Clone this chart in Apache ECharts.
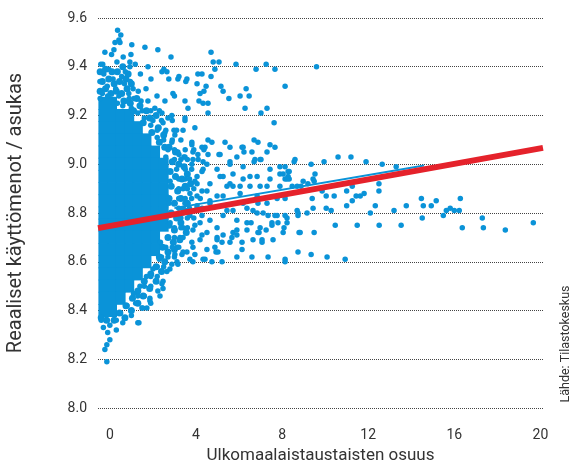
<!DOCTYPE html>
<html>
<head>
<meta charset="utf-8">
<script src="https://cdn.jsdelivr.net/npm/echarts@6/dist/echarts.min.js"></script>
<style>
    html, body { margin: 0; padding: 0; background: #fff; }
    #chart { width: 575px; height: 469px; }
</style>
</head>
<body>
<div id="chart"></div>
<script>
// x-akselin ja y-akselin tikit
var xTicks = [0, 4, 8, 12, 16, 20];
var yTicks = [8.0, 8.2, 8.4, 8.6, 8.8, 9.0, 9.2, 9.4, 9.6];

// tiheä ydinalue (kunnat joissa vähän ulkomaalaistaustaisia)
var corePoints = [
    [-0.3, 9.25], [0.1, 9.25],
    [-0.3, 9.20], [0.1, 9.20], [0.5, 9.20], [0.9, 9.20],
    [-0.3, 9.15], [0.1, 9.15], [0.5, 9.15], [0.9, 9.15], [1.3, 9.15],
    [-0.3, 9.10], [0.1, 9.10], [0.5, 9.10], [0.9, 9.10], [1.3, 9.10], [1.7, 9.10],
    [-0.3, 9.05], [0.1, 9.05], [0.5, 9.05], [0.9, 9.05], [1.3, 9.05], [1.7, 9.05], [2.1, 9.05],
    [-0.3, 9.00], [0.1, 9.00], [0.5, 9.00], [0.9, 9.00], [1.3, 9.00], [1.7, 9.00], [2.1, 9.00], [2.5, 9.00],
    [-0.3, 8.95], [0.1, 8.95], [0.5, 8.95], [0.9, 8.95], [1.3, 8.95], [1.7, 8.95], [2.1, 8.95], [2.5, 8.95],
    [-0.3, 8.90], [0.1, 8.90], [0.5, 8.90], [0.9, 8.90], [1.3, 8.90], [1.7, 8.90], [2.1, 8.90], [2.5, 8.90],
    [-0.3, 8.85], [0.1, 8.85], [0.5, 8.85], [0.9, 8.85], [1.3, 8.85], [1.7, 8.85], [2.1, 8.85], [2.5, 8.85],
    [-0.3, 8.80], [0.1, 8.80], [0.5, 8.80], [0.9, 8.80], [1.3, 8.80], [1.7, 8.80], [2.1, 8.80], [2.5, 8.80],
    [-0.3, 8.75], [0.1, 8.75], [0.5, 8.75], [0.9, 8.75], [1.3, 8.75], [1.7, 8.75], [2.1, 8.75], [2.5, 8.75],
    [-0.3, 8.70], [0.1, 8.70], [0.5, 8.70], [0.9, 8.70], [1.3, 8.70], [1.7, 8.70], [2.1, 8.70],
    [-0.3, 8.65], [0.1, 8.65], [0.5, 8.65], [0.9, 8.65], [1.3, 8.65], [1.7, 8.65], [2.1, 8.65],
    [-0.3, 8.60], [0.1, 8.60], [0.5, 8.60], [0.9, 8.60], [1.3, 8.60], [1.7, 8.60],
    [-0.3, 8.55], [0.1, 8.55], [0.5, 8.55], [0.9, 8.55], [1.3, 8.55],
    [-0.3, 8.50], [0.1, 8.50], [0.5, 8.50], [0.9, 8.50],
    [-0.3, 8.45], [0.1, 8.45], [0.5, 8.45],
    [-0.3, 8.40], [0.1, 8.40]
];

// ytimen reunan tiheät kunnat
var edgePoints = [
    [2.75, 9.07], [3.05, 9.05], [2.9, 9.01], [3.2, 9.0], [3.45, 8.99], [2.8, 8.97], [3.05, 8.95], [3.35, 8.94],
    [3.6, 8.96], [2.85, 8.91], [3.15, 8.89], [3.5, 8.91], [3.75, 8.92], [2.75, 8.86], [3.0, 8.84], [3.3, 8.86],
    [3.6, 8.84], [2.85, 8.80], [3.1, 8.78], [3.45, 8.81], [2.75, 8.75], [3.0, 8.73], [3.3, 8.76], [3.55, 8.72],
    [2.7, 8.70], [2.95, 8.68], [3.25, 8.69], [2.45, 8.66], [2.7, 8.64], [3.0, 8.65], [2.3, 8.62], [2.55, 8.60],
    [2.15, 8.58], [2.4, 8.56], [1.9, 8.55], [2.15, 8.52], [1.6, 8.52], [1.85, 8.49], [1.3, 8.48], [1.55, 8.46],
    [1.05, 8.45], [1.3, 8.43], [0.75, 8.42], [1.0, 8.40], [0.45, 8.39], [0.7, 8.37], [0.2, 8.36], [-0.4, 8.37],
    [-0.15, 8.36],
    [2.3, 9.09], [2.55, 9.07], [1.95, 9.13], [2.25, 9.15], [2.5, 9.12], [1.55, 9.17], [1.85, 9.19], [2.15, 9.2],
    [1.1, 9.22], [1.4, 9.24], [1.7, 9.22], [0.65, 9.26], [0.95, 9.25], [1.25, 9.27],
    [-0.45, 9.30], [-0.2, 9.31], [0.05, 9.29], [0.3, 9.30], [0.55, 9.29], [0.8, 9.31], [-0.35, 9.34], [-0.05, 9.35],
    [0.2, 9.33], [0.45, 9.34], [0.75, 9.35], [1.0, 9.33], [-0.45, 9.38], [-0.2, 9.39], [0.1, 9.38], [0.35, 9.38],
    [0.6, 9.40], [0.85, 9.37]
];

// yksittäiset kunnat
var scatterPoints = [
    // yläreuna
    [0.36, 9.55], [0.51, 9.53], [0.42, 9.51], [0.24, 9.50], [0.47, 9.50], [1.02, 9.49], [-0.23, 9.46], [0.19, 9.47],
    [1.63, 9.48], [2.23, 9.47], [0.98, 9.45], [2.84, 9.44], [0.93, 9.42], [4.7, 9.46], [4.8, 9.42], [5.07, 9.42],
    [4.88, 9.39], [-0.33, 9.41], [0.93, 9.40], [1.77, 9.40], [2.51, 9.39], [5.86, 9.41], [7.26, 9.41], [6.79, 9.39],
    [7.67, 9.39], [8.14, 9.32], [9.6, 9.40], [2.42, 9.38], [4.09, 9.37], [4.7, 9.36], [3.21, 9.36], [2.74, 9.35],
    [3.53, 9.34], [1.91, 9.35], [4.05, 9.33], [4.47, 9.32], [5.16, 9.32], [5.26, 9.30], [6.33, 9.31], [6.47, 9.28],
    [6.05, 9.28], [5.53, 9.27], [4.19, 9.29], [4.37, 9.30], [2.93, 9.29], [3.49, 9.26], [3.63, 9.23], [4.14, 9.26],
    [4.33, 9.25], [4.56, 9.25], [6.28, 9.23], [7.3, 9.23], [7.02, 9.21], [4.56, 9.21], [7.63, 9.17], [3.95, 9.15],
    [3.49, 9.19], [2.7, 9.19], [2.98, 9.14], [3.81, 9.08], [4.56, 9.10], [4.74, 9.09], [5.35, 9.09], [5.58, 9.07],
    [6.14, 9.07], [6.7, 9.10], [6.88, 9.09], [7.44, 9.08], [7.67, 9.07], [4.37, 9.06], [6.23, 9.05], [6.6, 9.05],
    [3.86, 9.05], [4.56, 9.04], [5.07, 9.04], [5.9, 9.03], [3.21, 9.04], [3.44, 9.03], [3.86, 9.02], [4.33, 9.01],
    [5.58, 9.01], [6.7, 9.01], [7.02, 9.02], [7.44, 8.98], [7.9, 8.96], [8.28, 8.97],
    // oikea puoli
    [8.14, 8.99], [8.05, 8.96], [8.33, 8.97], [8.14, 8.94], [8.33, 8.94], [8.56, 9.01], [9.35, 9.0], [9.95, 9.01],
    [10.6, 9.03], [11.2, 9.03], [11.9, 9.01], [12.65, 9.0], [13.3, 8.99], [8.98, 8.93], [9.2, 8.92], [9.53, 8.96],
    [9.44, 8.94], [9.49, 8.93], [8.47, 8.91], [8.7, 8.91], [8.88, 8.91], [9.86, 8.89], [9.4, 8.86], [10.05, 8.87],
    [10.42, 8.87], [11.0, 8.89], [11.26, 8.91], [11.26, 8.85], [11.44, 8.87], [11.63, 8.87], [11.81, 8.88], [12.5, 8.92],
    [12.5, 8.89], [11.0, 8.83], [12.33, 8.83], [12.1, 8.80], [8.7, 8.81], [8.74, 8.79], [9.16, 8.80], [9.44, 8.82],
    [10.05, 8.82], [10.28, 8.81], [13.2, 8.81], [13.77, 8.83], [14.47, 8.86], [14.56, 8.83], [14.93, 8.83], [15.16, 8.85],
    [16.28, 8.86], [15.63, 8.81], [15.81, 8.82], [16.0, 8.81], [16.23, 8.81], [14.51, 8.78], [15.49, 8.79], [17.3, 8.78],
    [8.23, 8.78], [8.09, 8.74], [8.05, 8.72], [8.79, 8.72], [9.49, 8.72], [10.47, 8.75], [11.49, 8.75], [12.51, 8.75],
    [13.53, 8.75], [16.37, 8.74], [17.35, 8.74], [18.37, 8.73], [19.67, 8.76], [8.74, 8.64], [9.35, 8.63], [10.09, 8.62],
    [10.93, 8.61], [8.14, 8.60],
    // keskialue
    [6.84, 8.80], [7.9, 8.91], [8.28, 8.95], [7.35, 8.79], [7.77, 8.79], [7.53, 8.75], [7.81, 8.76], [7.26, 8.73],
    [7.58, 8.69], [7.07, 8.69], [6.93, 8.72], [6.56, 8.76], [6.37, 8.73], [6.65, 8.69], [6.14, 8.68], [5.9, 8.71],
    [5.58, 8.68], [5.72, 8.72], [5.26, 8.71], [5.21, 8.68], [4.98, 8.70], [4.93, 8.64], [6.6, 8.62], [7.35, 8.62],
    [5.9, 8.62], [5.21, 8.60], [4.74, 8.6], [8.14, 8.61], [6.14, 8.65], [8.84, 8.72], [8.74, 8.80], [8.23, 8.76],
    [4.33, 8.61], [3.86, 8.60], [6.19, 9.07], [4.42, 9.07], [5.12, 9.04], [7.3, 9.05], [8.6, 9.02], [6.98, 9.02],
    [5.58, 9.0], [4.51, 9.0], [6.19, 8.99], [6.74, 9.02], [7.9, 8.99], [6.84, 8.95], [6.19, 8.94], [5.72, 8.96],
    [5.12, 8.95], [4.65, 8.92], [5.44, 8.91], [6.51, 8.91], [7.3, 8.91], [4.05, 8.95], [4.33, 8.98], [4.98, 8.98],
    [5.72, 8.91], [6.05, 8.88], [6.84, 8.87], [7.3, 8.84], [5.26, 8.87], [4.65, 8.85], [4.05, 8.87], [4.28, 8.82],
    [5.44, 8.81], [6.37, 8.82], [6.88, 8.84], [7.77, 8.86], [8.14, 8.86],
    [4.42, 8.61], [5.02, 8.64], [4.88, 8.66], [4.51, 8.65], [7.07, 8.68], [5.67, 8.70], [5.9, 8.73], [6.88, 8.72],
    [4.98, 8.69], [4.19, 8.69], [3.86, 8.66], [3.58, 8.64], [3.72, 8.61], [3.35, 8.63], [5.26, 8.95], [5.58, 8.92],
    [6.05, 8.91], [6.51, 8.95], [6.98, 8.91], [7.44, 8.94], [8.23, 8.94], [6.19, 8.84], [6.65, 8.81], [7.12, 8.80],
    [7.67, 8.79], [8.14, 8.79], [5.72, 8.81], [5.26, 8.79], [5.9, 8.77], [6.37, 8.76], [6.98, 8.74], [7.53, 8.76],
    [4.65, 8.77], [4.98, 8.74], [4.51, 8.72], [4.19, 8.76], [3.86, 8.73], [3.72, 8.79], [4.05, 8.82], [4.65, 8.84],
    [4.98, 8.87], [4.51, 8.89], [4.05, 8.92], [3.72, 8.88], [3.49, 8.84], [3.4, 8.80], [3.4, 8.74], [3.26, 8.70],
    [3.12, 8.66],
    // ytimen reuna
    [2.65, 9.38], [3.16, 9.35], [3.58, 9.35], [4.28, 9.37], [3.0, 9.28], [2.19, 9.28], [1.77, 9.26], [2.56, 9.26],
    [2.09, 9.23], [3.49, 9.18], [3.02, 9.12], [3.81, 9.09], [2.88, 9.09], [2.56, 9.13], [2.47, 9.17], [2.88, 9.2],
    [2.42, 9.21], [4.28, 9.07], [4.09, 9.04], [3.49, 9.03], [3.81, 9.0], [3.16, 9.05], [4.28, 8.97], [3.95, 8.93],
    [4.28, 8.89], [4.05, 8.83], [4.28, 8.79], [3.95, 8.75], [4.28, 8.71], [3.81, 8.68], [3.4, 8.64], [3.95, 8.63],
    [3.02, 8.63], [3.12, 8.60], [2.65, 8.56], [2.47, 8.52], [2.23, 8.48], [1.86, 8.44], [1.49, 8.41], [1.72, 8.41],
    [1.3, 8.35], [1.35, 8.35], [1.53, 8.41], [1.9, 8.43], [1.86, 8.45], [2.33, 8.46], [2.47, 8.49], [2.42, 8.51],
    [2.79, 8.57], [2.88, 8.59], [3.16, 8.59], [3.0, 8.62],
    [1.5, 9.22], [1.9, 9.22], [2.3, 9.22], [2.0, 9.18], [2.4, 9.18], [2.9, 9.18], [2.2, 9.14], [2.6, 9.14],
    [3.1, 9.14], [3.4, 9.14], [2.5, 9.10], [2.9, 9.10], [3.3, 9.10], [2.7, 9.06], [3.0, 9.06], [3.5, 9.06],
    [3.9, 9.06], [3.0, 9.02], [3.3, 9.02], [3.6, 9.02], [4.1, 9.02], [3.1, 8.98], [3.5, 8.98], [3.8, 8.98],
    [3.2, 8.94], [3.5, 8.94], [3.7, 8.94], [3.2, 8.90], [3.4, 8.90], [3.6, 8.90], [3.9, 8.90], [3.2, 8.86],
    [3.5, 8.86], [3.8, 8.86], [4.2, 8.86], [3.2, 8.82], [3.4, 8.82], [3.7, 8.82], [3.1, 8.78], [3.3, 8.78],
    [3.6, 8.78], [3.9, 8.78], [3.0, 8.74], [3.3, 8.74], [3.6, 8.74], [2.7, 8.70], [3.0, 8.70], [3.4, 8.70],
    [2.6, 8.66], [2.9, 8.66], [3.2, 8.66], [2.4, 8.62], [2.7, 8.62], [2.2, 8.58], [2.5, 8.58], [1.9, 8.54],
    [2.2, 8.54], [1.6, 8.50], [1.9, 8.50], [1.3, 8.46], [1.6, 8.46],
    [1.1, 8.47], [1.4, 8.50], [1.7, 8.54], [2.0, 8.57], [2.3, 8.61], [0.8, 8.42], [1.0, 8.38], [0.5, 8.39],
    [1.2, 8.43], [0.3, 8.36], [2.8, 8.93], [2.75, 8.84], [2.8, 8.76], [2.6, 9.03], [2.35, 8.68],
    // ytimen yläpuoli
    [-0.42, 9.41], [-0.05, 9.39], [0.33, 9.42], [0.72, 9.38], [1.18, 9.41], [-0.28, 9.37], [0.15, 9.35], [0.55, 9.36],
    [0.95, 9.34], [1.42, 9.37], [-0.46, 9.34], [-0.12, 9.32], [0.27, 9.31], [0.68, 9.33], [1.08, 9.31], [0.88, 9.29],
    [1.32, 9.30], [1.68, 9.31], [1.12, 9.27], [1.45, 9.26], [0.08, 9.45], [0.62, 9.44], [-0.35, 9.29], [0.42, 9.28],
    [0.8, 9.26], [-0.1, 9.28], [0.6, 9.24], [1.0, 9.23], [1.3, 9.21], [1.6, 9.19], [1.9, 9.16], [2.2, 9.11],
    [0.9, 9.27], [0.35, 9.25], [-0.45, 9.27],
    // alapään häntä
    [0.0, 8.34], [-0.1, 8.31], [0.0, 8.28], [-0.14, 8.26], [-0.23, 8.24], [-0.14, 8.19], [-0.3, 8.33], [0.3, 8.32],
    [-0.4, 8.36], [0.6, 8.35]
];

// regressiosuora ja sen alla näkyvä sininen viiva
var fitLine = [[-0.55, 8.738], [20.12, 9.067]];
var blueLine = [[3.0, 8.82], [14.6, 8.995]];

var chart = echarts.init(document.getElementById('chart'));
var font = 'Roboto';
var dotColor = '#0a93d8';

var option = {
    animation: false,
    textStyle: { fontFamily: font },
    grid: { left: 98, right: 32, top: 18, bottom: 61, outerBoundsMode: 'none', containLabel: false },
    xAxis: {
        type: 'value',
        min: -0.55,
        max: 20.12,
        name: 'Ulkomaalaistaustaisten osuus',
        nameLocation: 'middle',
        nameGap: 38,
        nameTextStyle: { fontSize: 17, color: '#333', fontFamily: font },
        axisLine: { show: false },
        axisTick: { show: false },
        splitLine: { show: false },
        axisLabel: {
            customValues: xTicks,
            margin: 20,
            fontSize: 14,
            color: '#333',
            fontFamily: font
        }
    },
    yAxis: {
        type: 'value',
        min: yTicks[0],
        max: yTicks[yTicks.length - 1],
        interval: 0.2,
        name: 'Reaaliset käyttömenot / asukas',
        nameLocation: 'middle',
        nameGap: 72,
        nameTextStyle: { fontSize: 20, color: '#333', fontFamily: font },
        axisLine: { show: false },
        axisTick: { show: false },
        axisLabel: {
            margin: 11,
            fontSize: 14,
            color: '#333',
            fontFamily: font,
            formatter: function(v) { return v.toFixed(1); }
        },
        splitLine: {
            lineStyle: { type: 'dotted', color: '#444', width: 1 }
        }
    },
    series: [{
        type: 'scatter',
        data: corePoints,
        symbol: 'rect',
        symbolSize: [10, 13],
        silent: true,
        itemStyle: { color: dotColor, opacity: 1 }
    }, {
        type: 'scatter',
        data: edgePoints,
        symbolSize: 7,
        silent: true,
        itemStyle: { color: dotColor, opacity: 1 }
    }, {
        type: 'scatter',
        data: scatterPoints,
        symbolSize: 5.5,
        silent: true,
        itemStyle: { color: dotColor, opacity: 1 }
    }, {
        type: 'line',
        data: blueLine,
        symbol: 'none',
        silent: true,
        z: 3,
        lineStyle: { color: dotColor, width: 2 }
    }, {
        type: 'line',
        data: fitLine,
        symbol: 'none',
        silent: true,
        z: 4,
        lineStyle: { color: '#e5222b', width: 6 }
    }],
    graphic: [{
        type: 'text',
        x: 566,
        y: 344,
        rotation: Math.PI / 2,
        style: {
            text: 'Lähde: Tilastokeskus',
            font: '12.5px ' + font,
            fill: '#333',
            align: 'center',
            verticalAlign: 'middle'
        }
    }]
};

chart.setOption(option);
</script>
</body>
</html>
